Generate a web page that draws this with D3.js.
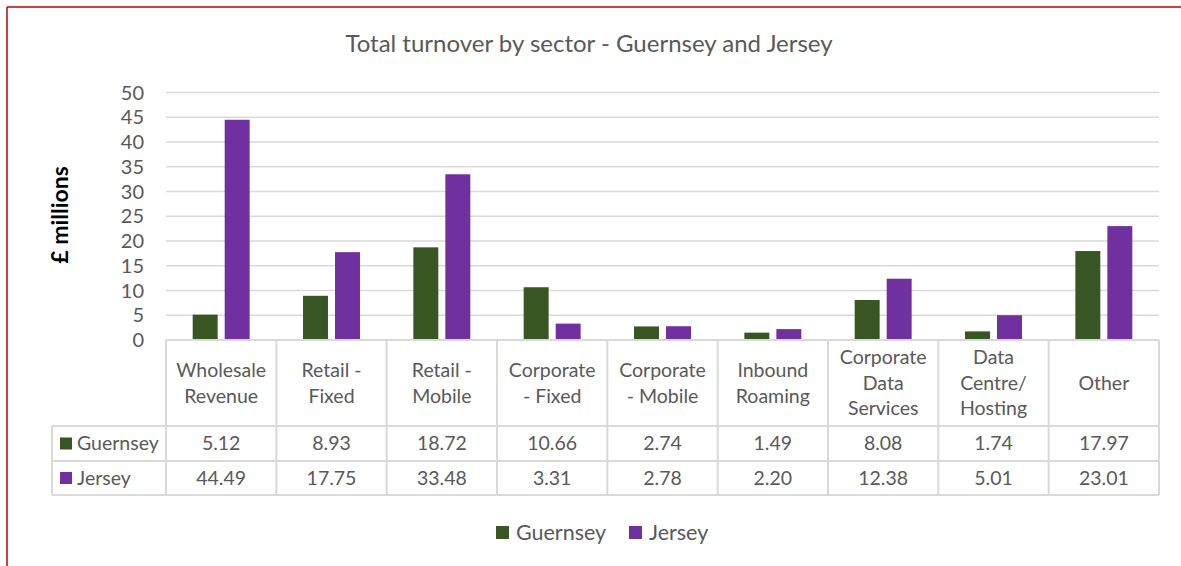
<!DOCTYPE html>
<html>
<head>
<meta charset="utf-8">
<script src="https://cdn.jsdelivr.net/npm/d3@7"></script>
<style>
  body { margin: 0; background: #fff; }
  svg text { font-family: Lato, "Open Sans", sans-serif; }
</style>
</head>
<body>
<div id="chart"></div>
<script>
(function chart() {

    // Data
    const categories = [
        ["Wholesale", "Revenue"],
        ["Retail -", "Fixed"],
        ["Retail -", "Mobile"],
        ["Corporate", "- Fixed"],
        ["Corporate", "- Mobile"],
        ["Inbound", "Roaming"],
        ["Corporate", "Data", "Services"],
        ["Data", "Centre/", "Hosting"],
        ["Other"]
    ];
    const series = ["Guernsey", "Jersey"];
    const guernsey = [5.12, 8.93, 18.72, 10.66, 2.74, 1.49, 8.08, 1.74, 17.97];
    const jersey = [44.49, 17.75, 33.48, 3.31, 2.78, 2.20, 12.38, 5.01, 23.01];
    const yTicks = [0, 5, 10, 15, 20, 25, 30, 35, 40, 45, 50];
    const colors = ["#375623", "#7030a0"];

    const WIDTH = 1181;
    const HEIGHT = 566;
    const TEXT = "#595959";
    const GRID = "#d9d9d9";

    const left = 166, right = 1159, top = 92.5, zero = 340;
    const headBottom = 426, row1 = 461, row2 = 495, labelLeft = 52;

    const values = [guernsey, jersey];
    const keys = categories.map((c, i) => "c" + i);

    const svg = d3.select("#chart").append("svg")
        .attr("width", WIDTH)
        .attr("height", HEIGHT);

    // red frame lines
    svg.append("line").attr("x1", 7).attr("x2", 7).attr("y1", 7).attr("y2", HEIGHT)
        .attr("stroke", "#c00000").attr("stroke-width", 1.5);
    svg.append("line").attr("x1", 7).attr("x2", WIDTH).attr("y1", 7).attr("y2", 7)
        .attr("stroke", "#c00000").attr("stroke-width", 1.5);

    const x = d3.scaleBand().domain(keys).range([left, right]);
    const xInner = d3.scaleBand().domain(series).range([0, x.bandwidth()])
        .paddingInner(0.22).paddingOuter(0.834);
    const y = d3.scaleLinear().domain([0, 50]).range([zero, top]);

    // title
    svg.append("text")
        .attr("x", 589).attr("y", 52)
        .attr("text-anchor", "middle")
        .attr("fill", TEXT)
        .style("font-size", "24px")
        .text("Total turnover by sector - Guernsey and Jersey");

    // y label
    svg.append("text")
        .attr("transform", "translate(68,215) rotate(-90)")
        .attr("text-anchor", "middle")
        .attr("fill", "#000")
        .style("font-size", "23px")
        .style("font-weight", "bold")
        .text("£ millions");

    // gridlines
    svg.append("g").selectAll("line")
        .data(yTicks.filter(t => t > 0))
        .join("line")
        .attr("x1", left).attr("x2", right)
        .attr("y1", d => y(d)).attr("y2", d => y(d))
        .attr("stroke", GRID).attr("stroke-width", 1.3);

    // y axis labels
    svg.append("g").selectAll("text")
        .data(yTicks)
        .join("text")
        .attr("x", 144)
        .attr("y", d => y(d))
        .attr("dy", "0.35em")
        .attr("text-anchor", "end")
        .attr("fill", TEXT)
        .style("font-size", "20px")
        .text(d => d);

    // bars
    const groups = svg.append("g").selectAll("g")
        .data(keys)
        .join("g")
        .attr("transform", d => `translate(${x(d)},0)`);
    groups.selectAll("rect")
        .data((d, i) => series.map((s, j) => ({ s, j, v: values[j][i] })))
        .join("rect")
        .attr("x", d => xInner(d.s))
        .attr("width", xInner.bandwidth())
        .attr("y", d => y(d.v))
        .attr("height", d => zero - y(d.v))
        .attr("fill", d => colors[d.j]);

    // data table
    const tbl = svg.append("g")
        .attr("stroke", GRID).attr("stroke-width", 2).attr("fill", "none");
    tbl.append("line").attr("x1", left).attr("x2", right).attr("y1", zero).attr("y2", zero);
    [headBottom, row1, row2].forEach(yy => {
        tbl.append("line").attr("x1", labelLeft).attr("x2", right).attr("y1", yy).attr("y2", yy);
    });
    tbl.append("line").attr("x1", labelLeft).attr("x2", labelLeft).attr("y1", headBottom).attr("y2", row2);
    keys.concat(["end"]).forEach(k => {
        const xx = k === "end" ? right : x(k);
        tbl.append("line").attr("x1", xx).attr("x2", xx).attr("y1", zero).attr("y2", row2);
    });

    // category headers
    const lh = 25.5;
    const headMid = (zero + headBottom) / 2;
    svg.append("g").selectAll("text")
        .data(categories)
        .join("text")
        .attr("text-anchor", "middle")
        .attr("fill", TEXT)
        .style("font-size", "19.5px")
        .each(function (lines, i) {
            const cx = x(keys[i]) + x.bandwidth() / 2;
            const start = headMid - (lines.length - 1) * lh / 2;
            d3.select(this).selectAll("tspan")
                .data(lines)
                .join("tspan")
                .attr("x", cx)
                .attr("y", (l, k) => start + k * lh)
                .attr("dy", "0.35em")
                .text(l => l);
        });

    // rows
    const rowMids = [(headBottom + row1) / 2, (row1 + row2) / 2];
    series.forEach((s, j) => {
        const ym = rowMids[j];
        svg.append("rect")
            .attr("x", 60).attr("y", ym - 6)
            .attr("width", 12).attr("height", 12)
            .attr("fill", colors[j]);
        svg.append("text")
            .attr("x", 77).attr("y", ym).attr("dy", "0.35em")
            .attr("fill", TEXT).style("font-size", "19.5px")
            .text(s);
        svg.append("g").selectAll("text")
            .data(values[j])
            .join("text")
            .attr("x", (d, i) => x(keys[i]) + x.bandwidth() / 2)
            .attr("y", ym).attr("dy", "0.35em")
            .attr("text-anchor", "middle")
            .attr("fill", TEXT).style("font-size", "19.5px")
            .text(d => d.toFixed(2));
    });

    // legend
    const legX = [496, 629];
    series.forEach((s, j) => {
        svg.append("rect")
            .attr("x", legX[j]).attr("y", 526)
            .attr("width", 13).attr("height", 13)
            .attr("fill", colors[j]);
        svg.append("text")
            .attr("x", legX[j] + 20).attr("y", 532).attr("dy", "0.35em")
            .attr("fill", TEXT).style("font-size", "21.5px")
            .text(s);
    });

})();
</script>
</body>
</html>
